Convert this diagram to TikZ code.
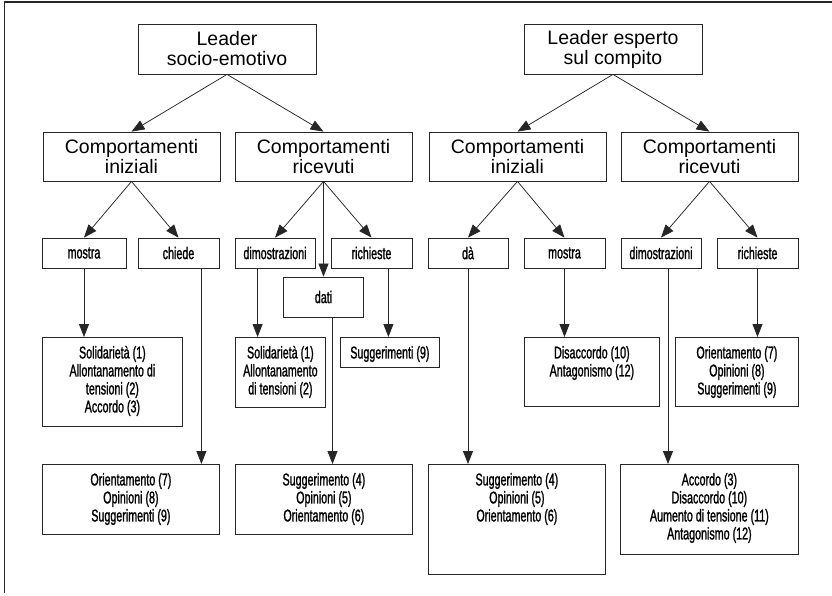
\documentclass[tikz,border=0pt]{standalone}
\usepackage{fontspec}
\setmainfont{Liberation Sans}
\newfontfamily\condf[FakeStretch=0.63,FakeBold=1.2]{Liberation Sans}
\usetikzlibrary{arrows.meta,calc}
\newcommand\lowtext[3]{\parbox[c][#2][t]{#1}{\centering\rule{0pt}{21pt}#3\par}}
\begin{document}
\begin{tikzpicture}[x=1pt,y=-1pt,
  frame/.style={line width=1.4pt, draw=black!85},
  bigbox/.style={draw=black!85, line width=0.8pt, align=center, font=\fontsize{19.5}{20}\selectfont, inner sep=0pt},
  smallbox/.style={draw=black!85, line width=0.8pt, font=\condf\fontsize{17}{18}\selectfont, inner sep=0pt, minimum height=30pt},
  lowbox/.style={draw=black!85, line width=0.8pt, inner sep=0pt, anchor=north west, font=\condf\fontsize{17}{18}\selectfont},
  arr/.style={-{Triangle[length=13pt,width=10pt]}, line width=0.75pt, draw=black!85}]
\useasboundingbox (0,0) rectangle (832,595);
\draw[frame] (4.5,593) -- (4.5,2) -- (832,2);

% top level
\node[bigbox, minimum width=178pt, minimum height=50pt] (L1) at (227,49) {Leader\\socio-emotivo};
\node[bigbox, minimum width=178pt, minimum height=50pt] (L2) at (613,49) {Leader esperto\\sul compito};
\node[bigbox, minimum width=177pt, minimum height=49pt] (CI1) at (131.5,156.5) {Comportamenti\\iniziali};
\node[bigbox, minimum width=177pt, minimum height=49pt] (R1) at (323.5,156.5) {Comportamenti\\ricevuti};
\node[bigbox, minimum width=177pt, minimum height=49pt] (CI2) at (517.5,156.5) {Comportamenti\\iniziali};
\node[bigbox, minimum width=177pt, minimum height=49pt] (R2) at (709.5,156.5) {Comportamenti\\ricevuti};

% small boxes
\node[smallbox, minimum width=84pt] (m1) at (84,253) {mostra};
\node[smallbox, minimum width=81pt] (ch) at (178.5,253) {chiede};
\node[smallbox, minimum width=80pt] (d1) at (275,253) {dimostrazioni};
\node[smallbox, minimum width=81pt] (r1) at (371.5,253) {richieste};
\node[smallbox, minimum width=80pt] (da) at (468,253) {dà};
\node[smallbox, minimum width=81pt] (m2) at (564.5,253) {mostra};
\node[smallbox, minimum width=80pt] (d2) at (661,253) {dimostrazioni};
\node[smallbox, minimum width=81pt] (r2) at (757.5,253) {richieste};
\node[smallbox, minimum width=80pt, minimum height=40pt] (dati) at (323.5,297) {dati};

% lower boxes
\node[lowbox] (s1) at (42,337) {\lowtext{140pt}{89pt}{Solidarietà (1)\\Allontanamento di\\tensioni (2)\\Accordo (3)}};
\node[lowbox] (o1) at (42,464) {\lowtext{177pt}{70pt}{Orientamento (7)\\Opinioni (8)\\Suggerimenti (9)}};
\node[lowbox] (s2) at (235,337) {\lowtext{90pt}{70pt}{Solidarietà (1)\\Allontanamento\\di tensioni (2)}};
\node[lowbox] (g9) at (340,337) {\lowtext{99pt}{30pt}{Suggerimenti (9)}};
\node[lowbox] (g4) at (235,464) {\lowtext{177pt}{70pt}{Suggerimento (4)\\Opinioni (5)\\Orientamento (6)}};
\node[lowbox] (g4b) at (428,464) {\lowtext{177pt}{110pt}{Suggerimento (4)\\Opinioni (5)\\Orientamento (6)}};
\node[lowbox] (ds) at (524,337) {\lowtext{135pt}{69pt}{Disaccordo (10)\\Antagonismo (12)}};
\node[lowbox] (o2) at (675,337) {\lowtext{123pt}{69pt}{Orientamento (7)\\Opinioni (8)\\Suggerimenti (9)}};
\node[lowbox] (ac) at (620,464) {\lowtext{178pt}{90pt}{Accordo (3)\\Disaccordo (10)\\Aumento di tensione (11)\\Antagonismo (12)}};

% diagonal arrows
\draw[arr] (L1.south) -- (CI1.north);
\draw[arr] (L1.south) -- (R1.north);
\draw[arr] (L2.south) -- (CI2.north);
\draw[arr] (L2.south) -- (R2.north);
\draw[arr] (CI1.south) -- (m1.north);
\draw[arr] (CI1.south) -- (ch.north);
\draw[arr] (R1.south) -- (d1.north);
\draw[arr] (R1.south) -- (dati.north);
\draw[arr] (R1.south) -- (r1.north);
\draw[arr] (CI2.south) -- (da.north);
\draw[arr] (CI2.south) -- (m2.north);
\draw[arr] (R2.south) -- (d2.north);
\draw[arr] (R2.south) -- (r2.north);

% vertical arrows
\coordinate (chx) at ([xshift=-18pt]ch.south east);
\coordinate (d1x) at ([xshift=23pt]d1.south west);
\coordinate (datix) at ([xshift=9pt]dati.south);
\coordinate (r1x) at ([xshift=-24pt]r1.south east);
\coordinate (d2x) at ([xshift=7pt]d2.south);
\draw[arr] (m1.south) -- (m1.south |- s1.north);
\draw[arr] (chx) -- (chx |- o1.north);
\draw[arr] (d1x) -- (d1x |- s2.north);
\draw[arr] (datix) -- (datix |- g4.north);
\draw[arr] (r1x) -- (r1x |- g9.north);
\draw[arr] (da.south) -- (da.south |- g4b.north);
\draw[arr] (m2.south) -- (m2.south |- ds.north);
\draw[arr] (d2x) -- (d2x |- ac.north);
\draw[arr] (r2.south) -- (r2.south |- o2.north);
\end{tikzpicture}
\end{document}
